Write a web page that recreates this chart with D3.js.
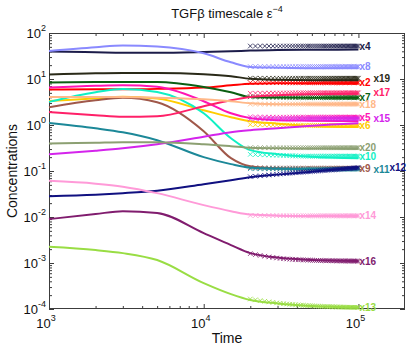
<!DOCTYPE html>
<html>
<head>
<meta charset="utf-8">
<script src="https://cdn.jsdelivr.net/npm/d3@7"></script>
<style>
  body { margin: 0; background: #fff; }
  text { font-family: "Liberation Sans", Arial, Helvetica, sans-serif; }
</style>
</head>
<body>
<script>
var tijden = [1e3, 2e3, 3e3, 5e3, 1e4, 1.5e4, 2e4, 3e4, 5e4, 1e5];
// tijdstippen voor de benadering (kruisjes)
var tijdenBenadering = [2e4, 3e4, 5e4, 1e5];

// volledige model
var x2  = [5.9, 6.0, 6.0, 6.1, 6.5, 7.3, 7.9, 8.1, 8.1, 8.1];
var x4  = [39.4, 38.1, 37.2, 37.2, 38.7, 40.1, 41.5, 42.6, 43.2, 43.6];
var x5  = [6.5, 7.1, 7.3, 6.8, 3.29, 1.80, 1.41, 1.27, 1.24, 1.21];
var x6  = [3.33, 3.80, 4.11, 3.76, 2.09, 1.48, 1.21, 1.07, 0.94, 0.90];
var x7  = [8.4, 8.6, 8.6, 8.6, 6.7, 5.15, 4.07, 3.95, 3.92, 3.92];
var x8  = [40.6, 49, 53.5, 51, 36.2, 23.1, 18.3, 17.6, 17.1, 17.1];
var x9  = [2.44, 3.46, 3.92, 3.13, 0.733, 0.190, 0.127, 0.115, 0.112, 0.112];
var x10 = [3.18, 5.15, 6.08, 5.24, 1.80, 0.516, 0.284, 0.232, 0.205, 0.190];
var x11 = [1.107, 0.849, 0.695, 0.468, 0.200, 0.141, 0.118, 0.112, 0.110, 0.110];
var x12 = [0.0284, 0.0306, 0.0330, 0.0374, 0.0518, 0.0632, 0.0735, 0.0834, 0.0968, 0.121];
var x13 = [0.00225, 0.00191, 0.00164, 0.00116, 0.000366, 0.000211, 0.000157, 0.000132, 0.000116, 0.000108];
var x14 = [0.0611, 0.0531, 0.0457, 0.0330, 0.0181, 0.0134, 0.0113, 0.0107, 0.0105, 0.0105];
var x15 = [0.232, 0.277, 0.313, 0.383, 0.557, 0.698, 0.771, 0.853, 0.966, 1.094];
var x16 = [0.0090, 0.0116, 0.0134, 0.0122, 0.00447, 0.00245, 0.00164, 0.00131, 0.00116, 0.00110];
var x17 = [1.92, 1.63, 1.51, 1.55, 2.56, 3.46, 4.07, 4.44, 4.67, 4.79];
var x18 = [4.07, 4.07, 4.06, 3.92, 3.63, 3.29, 2.97, 2.83, 2.83, 2.83];
var x19 = [12.5, 13.3, 13.5, 13.5, 12.7, 11.5, 10.1, 9.6, 9.4, 9.4];
var x20 = [0.396, 0.413, 0.424, 0.424, 0.383, 0.347, 0.321, 0.313, 0.309, 0.306];

// benadering (kruisjes)
var b2  = [8.3, 8.3, 8.3, 8.3];
var b4  = [52, 52, 52, 52];
var b5  = [1.5, 1.48, 1.48, 1.48];
var b6  = [1.02, 1.0, 0.98, 0.98];
var b7  = [4.1, 4.0, 3.95, 3.95];
var b8  = [18.6, 18.6, 18.6, 18.6];
var b9  = [0.118, 0.116, 0.115, 0.115];
var b10 = [0.23, 0.22, 0.21, 0.21];
var b11 = [0.112, 0.111, 0.11, 0.11];
var b12 = [0.075, 0.085, 0.098, 0.118];
var b13 = [0.000165, 0.000135, 0.000117, 0.000108];
var b14 = [0.0108, 0.0107, 0.0106, 0.0106];
var b15 = [1.36, 1.36, 1.36, 1.36];
var b16 = [0.0016, 0.00128, 0.00115, 0.0011];
var b17 = [4.9, 4.95, 5.0, 5.0];
var b18 = [2.85, 2.85, 2.85, 2.85];
var b19 = [10.4, 10.4, 10.4, 10.4];
var b20 = [0.32, 0.32, 0.32, 0.32];

var namen = ["x2", "x4", "x5", "x6", "x7", "x8", "x9", "x10", "x11", "x12",
             "x13", "x14", "x15", "x16", "x17", "x18", "x19", "x20"];
var kleuren = ["#ff0000", "#1c1c4a", "#ff14b4", "#ffcc00", "#0b5f12", "#8a8aff",
               "#a0584a", "#10f0c4", "#1c8898", "#101080", "#99dd44", "#ff9ad8",
               "#d424ec", "#801c6e", "#ff2068", "#ffb888", "#2a2a18", "#8ca072"];
var reeksen = [x2, x4, x5, x6, x7, x8, x9, x10, x11, x12, x13, x14, x15, x16, x17, x18, x19, x20];
var benaderingen = [b2, b4, b5, b6, b7, b8, b9, b10, b11, b12, b13, b14, b15, b16, b17, b18, b19, b20];

var xTicks = [1e3, 1e4, 1e5];
var yTicks = [1e-4, 1e-3, 1e-2, 1e-1, 1e0, 1e1, 1e2];

var breedte = 416, hoogte = 351;
var marge = {boven: 33, beneden: 42, links: 49, rechts: 11};

var svg = d3.select("body").append("svg")
    .attr("width", breedte)
    .attr("height", hoogte);

var x = d3.scaleLog().domain([1e3, 2e5]).range([marge.links, breedte - marge.rechts]);
var y = d3.scaleLog().domain([1e-4, 1e2]).range([hoogte - marge.beneden, marge.boven]);

// kleine streepjes per decade
var xMinor = [], yMinor = [];
d3.range(3, 6).forEach(function(e) {
  d3.range(2, 10).forEach(function(m) {
    if (m * Math.pow(10, e) < 2e5) xMinor.push(m * Math.pow(10, e));
  });
});
d3.range(-4, 2).forEach(function(e) {
  d3.range(2, 10).forEach(function(m) { yMinor.push(m * Math.pow(10, e)); });
});

var asKleur = "#3c3c3c";
function tekenAs(as, transform) {
  var g = svg.append("g").attr("transform", transform).call(as);
  g.select(".domain").remove();
  g.selectAll("line").attr("stroke", asKleur);
  g.selectAll("text").remove();
}
var onder = hoogte - marge.beneden, rechts = breedte - marge.rechts;
tekenAs(d3.axisBottom(x).tickValues(xTicks).tickSize(-5), "translate(0," + onder + ")");
tekenAs(d3.axisBottom(x).tickValues(xMinor).tickSize(-3), "translate(0," + onder + ")");
tekenAs(d3.axisTop(x).tickValues(xTicks).tickSize(-5), "translate(0," + marge.boven + ")");
tekenAs(d3.axisTop(x).tickValues(xMinor).tickSize(-3), "translate(0," + marge.boven + ")");
tekenAs(d3.axisLeft(y).tickValues(yTicks).tickSize(-5), "translate(" + marge.links + ",0)");
tekenAs(d3.axisLeft(y).tickValues(yMinor).tickSize(-3), "translate(" + marge.links + ",0)");
tekenAs(d3.axisRight(y).tickValues(yTicks).tickSize(-5), "translate(" + rechts + ",0)");
tekenAs(d3.axisRight(y).tickValues(yMinor).tickSize(-3), "translate(" + rechts + ",0)");

// kader
svg.append("rect")
   .attr("x", marge.links + 0.5)
   .attr("y", marge.boven + 0.5)
   .attr("width", rechts - marge.links - 1)
   .attr("height", onder - marge.boven - 1)
   .attr("fill", "none")
   .attr("stroke", asKleur)
   .attr("stroke-width", 1);

// ticklabels als 10 met exponent
function exponent(d) { return Math.round(Math.log10(d)); }
var xLabels = svg.append("g").selectAll("text").data(xTicks).enter().append("text")
   .attr("x", function(d) { return x(d) - 3; })
   .attr("y", onder + 19)
   .attr("text-anchor", "middle")
   .attr("font-size", "13px")
   .attr("fill", "#111");
xLabels.append("tspan").text("10");
xLabels.append("tspan").attr("dy", -7).attr("font-size", "9px").text(function(d) { return exponent(d); });

var yLabels = svg.append("g").selectAll("text").data(yTicks).enter().append("text")
   .attr("x", marge.links - 3)
   .attr("y", function(d) { return y(d) + 5; })
   .attr("text-anchor", "end")
   .attr("font-size", "13px")
   .attr("fill", "#111");
yLabels.append("tspan").text("10");
yLabels.append("tspan").attr("dy", -7).attr("font-size", "9px").text(function(d) { return exponent(d); });

// astitels
svg.append("text")
   .attr("x", (marge.links + rechts) / 2)
   .attr("y", hoogte - 8)
   .attr("text-anchor", "middle")
   .attr("font-size", "14px")
   .attr("fill", "#111")
   .text("Time");

svg.append("text")
   .attr("transform", "translate(17," + ((marge.boven + onder) / 2) + ") rotate(-90)")
   .attr("text-anchor", "middle")
   .attr("font-size", "14px")
   .attr("fill", "#111")
   .text("Concentrations");

var titel = svg.append("text")
   .attr("x", (marge.links + rechts) / 2)
   .attr("y", 18)
   .attr("text-anchor", "middle")
   .attr("font-size", "13px")
   .attr("fill", "#111");
titel.append("tspan").text("TGF\u03b2 timescale \u03b5");
titel.append("tspan").attr("dy", -6).attr("font-size", "9px").text("\u22124");

// lijnen
var lijn = d3.line()
    .x(function(d) { return x(d[0]); })
    .y(function(d) { return y(d[1]); })
    .curve(d3.curveMonotoneX);

var grafiek = svg.append("g");
var kruisTijden = d3.range(2e4, 1e5 + 1, 1600);
var labelsGeplaatst = [];

reeksen.forEach(function(reeks, i) {
  var kleur = kleuren[i];
  grafiek.append("path")
     .attr("d", lijn(tijden.map(function(t, j) { return [t, reeks[j]]; })))
     .attr("fill", "none")
     .attr("stroke", kleur)
     .attr("stroke-width", 2);

  // hulppad voor de kruisjes
  var hulp = grafiek.append("path")
     .attr("d", lijn(tijdenBenadering.map(function(t, j) { return [t, benaderingen[i][j]]; })))
     .attr("fill", "none")
     .attr("stroke", "none");
  var knoop = hulp.node();
  var lengte = knoop.getTotalLength();
  kruisTijden.forEach(function(t) {
    var doel = x(t), lo = 0, hi = lengte;
    for (var k = 0; k < 30; k++) {
      var mid = (lo + hi) / 2;
      if (knoop.getPointAtLength(mid).x < doel) lo = mid; else hi = mid;
    }
    var p = knoop.getPointAtLength(lo);
    grafiek.append("path")
       .attr("transform", "translate(" + p.x + "," + p.y + ")")
       .attr("d", "M-2.3,-2.3L2.3,2.3M-2.3,2.3L2.3,-2.3")
       .attr("stroke", kleur)
       .attr("stroke-width", 0.8)
       .attr("fill", "none");
  });
  hulp.remove();

  // label aan het eind, schuif op als het botst
  var laatste = benaderingen[i][benaderingen[i].length - 1];
  var ly = y(laatste);
  var kolom = 0;
  while (labelsGeplaatst.some(function(l) { return l.kolom === kolom && Math.abs(l.y - ly) < 6.5; })) {
    kolom++;
  }
  labelsGeplaatst.push({kolom: kolom, y: ly});
  svg.append("text")
     .attr("x", x(1e5) + 1 + [0, 14, 30][kolom])
     .attr("y", ly + 3.5)
     .attr("font-size", "10px")
     .attr("font-weight", "bold")
     .attr("fill", kleur)
     .text(namen[i]);
});
</script>
</body>
</html>
